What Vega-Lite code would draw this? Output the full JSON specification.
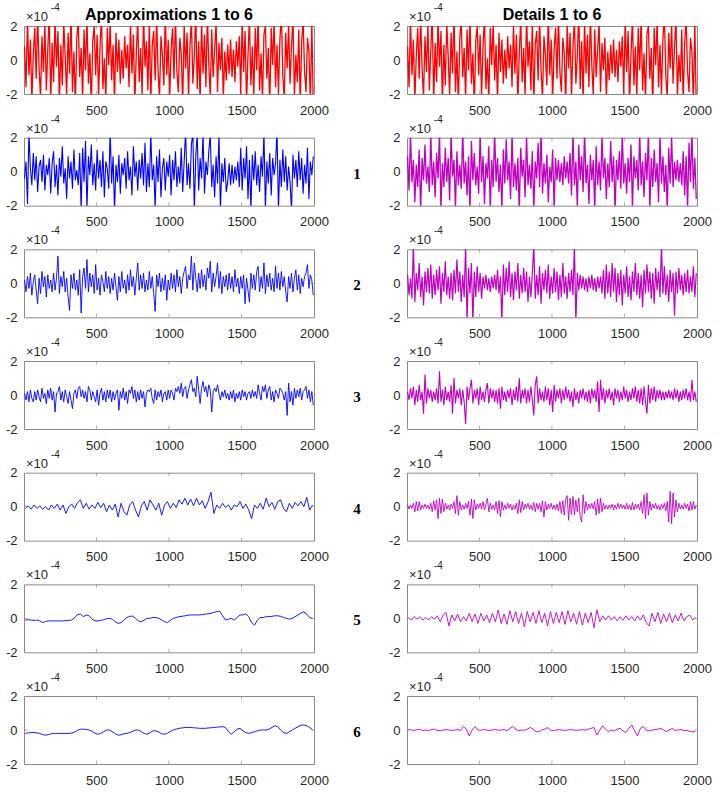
{
"$schema": "https://vega.github.io/schema/vega-lite/v6.json",
"padding": {"left": 4, "top": 2, "right": 5, "bottom": 5},
"background": "white",
"bounds": "flush",
"columns": 2,
"spacing": {"row": 43.67, "column": 93},
"config": {
  "locale": {"number": {"decimal": ".", "thousands": ",", "grouping": [3], "currency": ["$", ""], "minus": "-"}},
  "view": {"stroke": "#8a8a8a", "strokeWidth": 1},
  "axis": {"grid": false, "domain": false, "ticks": false, "labelFont": "Liberation Sans", "labelFontSize": 13, "labelColor": "#262626", "labelFlush": false, "labelOverlap": false, "labelBound": false},
  "axisX": {"labelPadding": 10, "tickCount": 10},
  "axisY": {"labelPadding": 7, "tickCount": 5}
},
"datasets": {
"one": [{"k": 0}],
"tk": [{"t": 500}, {"t": 1000}, {"t": 1500}],
"ye": [{"e": 1, "z": 0}, {"e": 2000, "z": 0}],
"g10": [
{"x":5,"s":0.8,"a1":-0.4,"d1":0.9,"a2":0.2,"d2":0.5,"a3":0.1,"d3":0.2,"d4":0.1},
{"x":15,"s":-1.6,"a1":0.6,"d1":-1.1,"a2":-0.5,"d2":-0.7,"a3":-0.3,"d3":-0.3,"d4":-0.15},
{"x":25,"s":2.5,"a1":-1.9,"d1":2.3,"a2":0.4,"d2":0.3,"a3":0.2,"d3":0.4,"d4":0.1},
{"x":35,"s":-0.9,"a1":2.3,"d1":-0.6,"a2":-0.3,"d2":-0.9,"a3":-0.4,"d3":-0.2,"d4":-0.1},
{"x":45,"s":1.2,"a1":0.2,"d1":0.7,"a2":0.6,"d2":2.3,"a3":0.3,"d3":0.5,"d4":0.2},
{"x":55,"s":-2.4,"a1":-0.8,"d1":-1.8,"a2":-0.7,"d2":-1.1,"a3":-0.2,"d3":-0.6,"d4":-0.3},
{"x":65,"s":0.3,"a1":1.1,"d1":0.4,"a2":0.1,"d2":0.6,"a3":-0.4,"d3":0.3,"d4":0.3},
{"x":75,"s":1.9,"a1":-0.5,"d1":-0.9,"a2":0.5,"d2":-0.4,"a3":0.2,"d3":-0.4,"d4":-0.25},
{"x":85,"s":-1.1,"a1":0.9,"d1":1.3,"a2":-0.4,"d2":1.2,"a3":-0.3,"d3":0.6,"d4":0.3},
{"x":95,"s":2.6,"a1":-1.2,"d1":-2.4,"a2":-1.2,"d2":-0.8,"a3":0.3,"d3":-0.3,"d4":-0.2},
{"x":105,"s":-0.5,"a1":0.3,"d1":0.8,"a2":0.3,"d2":0.4,"a3":-0.1,"d3":0.2,"d4":0.1},
{"x":115,"s":-2.2,"a1":0.7,"d1":-0.5,"a2":-0.6,"d2":-1.3,"a3":-0.4,"d3":-1.1,"d4":-0.1},
{"x":125,"s":1.4,"a1":-0.6,"d1":1.6,"a2":0.7,"d2":0.7,"a3":0.4,"d3":1.2,"d4":0.15},
{"x":135,"s":-0.7,"a1":1.0,"d1":-0.7,"a2":-0.2,"d2":-0.5,"a3":-0.2,"d3":-0.5,"d4":-0.1},
{"x":145,"s":2.1,"a1":-1.1,"d1":0.3,"a2":0.4,"d2":0.9,"a3":0.1,"d3":0.4,"d4":0.1},
{"x":155,"s":-1.8,"a1":0.4,"d1":-1.2,"a2":-0.8,"d2":-0.6,"a3":-0.5,"d3":-0.2,"d4":-0.15},
{"x":165,"s":0.6,"a1":-0.2,"d1":2.2,"a2":0.5,"d2":1.1,"a3":0.3,"d3":0.3,"d4":0.2},
{"x":175,"s":2.7,"a1":0.8,"d1":-0.8,"a2":-0.3,"d2":-0.9,"a3":-0.2,"d3":-0.4,"d4":-0.3},
{"x":185,"s":-2.5,"a1":-1.3,"d1":0.6,"a2":0.2,"d2":0.5,"a3":0.4,"d3":0.2,"d4":0.35},
{"x":195,"s":1.0,"a1":0.5,"d1":-1.5,"a2":-0.5,"d2":-0.7,"a3":-0.3,"d3":-0.3,"d4":-0.2},
{"x":205,"s":-1.3,"a1":1.2,"d1":1.1,"a2":0.6,"d2":0.8,"a3":0.2,"d3":0.4,"d4":0.4},
{"x":215,"s":2.4,"a1":-0.9,"d1":-0.4,"a2":-0.4,"d2":-0.4,"a3":-1.0,"d3":-0.5,"d4":-0.7},
{"x":225,"s":-0.4,"a1":0.4,"d1":2.4,"a2":0.3,"d2":1.0,"a3":0.1,"d3":1.4,"d4":0.5},
{"x":235,"s":1.7,"a1":-1.4,"d1":-2.3,"a2":1.6,"d2":-1.2,"a3":0.2,"d3":-0.4,"d4":-0.4},
{"x":245,"s":-2.6,"a1":0.8,"d1":0.5,"a2":-0.6,"d2":0.6,"a3":0.5,"d3":0.3,"d4":0.45},
{"x":255,"s":0.9,"a1":-0.3,"d1":-0.9,"a2":0.4,"d2":-0.5,"a3":-0.3,"d3":-0.6,"d4":-0.3},
{"x":265,"s":-1.5,"a1":1.5,"d1":1.4,"a2":-0.2,"d2":1.3,"a3":0.2,"d3":0.5,"d4":0.2},
{"x":275,"s":2.2,"a1":-0.7,"d1":-0.6,"a2":0.7,"d2":-0.7,"a3":-0.4,"d3":-0.3,"d4":-0.15},
{"x":285,"s":0.2,"a1":0.2,"d1":0.8,"a2":-0.5,"d2":0.4,"a3":0.3,"d3":0.2,"d4":0.1},
{"x":295,"s":-2.1,"a1":-1.6,"d1":-1.7,"a2":0.3,"d2":-0.9,"a3":-0.1,"d3":-0.4,"d4":-0.2},
{"x":305,"s":1.6,"a1":0.9,"d1":2.3,"a2":-0.8,"d2":0.6,"a3":-0.5,"d3":0.6,"d4":0.15},
{"x":315,"s":-0.8,"a1":-0.4,"d1":-0.3,"a2":-1.6,"d2":-1.0,"a3":0.2,"d3":-1.1,"d4":-0.1},
{"x":325,"s":2.8,"a1":0.6,"d1":0.7,"a2":0.5,"d2":0.8,"a3":-0.3,"d3":1.0,"d4":0.3},
{"x":335,"s":-1.9,"a1":-1.0,"d1":-2.2,"a2":-0.3,"d2":-0.6,"a3":-0.8,"d3":-0.5,"d4":-0.4},
{"x":345,"s":0.5,"a1":1.3,"d1":1.2,"a2":0.6,"d2":1.4,"a3":0.1,"d3":0.3,"d4":0.65},
{"x":355,"s":-2.7,"a1":-0.5,"d1":-0.8,"a2":-0.4,"d2":-0.5,"a3":0.3,"d3":-0.2,"d4":-0.5},
{"x":365,"s":1.3,"a1":0.1,"d1":0.4,"a2":0.2,"d2":0.7,"a3":-0.2,"d3":0.4,"d4":0.3},
{"x":375,"s":2.3,"a1":-0.8,"d1":-1.0,"a2":-0.7,"d2":-1.1,"a3":0.4,"d3":-0.6,"d4":-0.2},
{"x":385,"s":-1.0,"a1":1.1,"d1":2.5,"a2":0.8,"d2":0.5,"a3":0.5,"d3":0.3,"d4":0.1},
{"x":395,"s":0.7,"a1":-2.3,"d1":-0.7,"a2":-1.75,"d2":-0.8,"a3":-0.1,"d3":-0.4,"d4":-0.15},
{"x":405,"s":-2.3,"a1":1.4,"d1":0.6,"a2":0.4,"d2":2.3,"a3":0.3,"d3":-1.7,"d4":0.2},
{"x":415,"s":1.8,"a1":-0.6,"d1":-1.4,"a2":0.9,"d2":-2.3,"a3":-0.2,"d3":0.5,"d4":-0.1},
{"x":425,"s":-0.6,"a1":1.8,"d1":0.9,"a2":-0.3,"d2":0.9,"a3":0.2,"d3":-0.3,"d4":0.3},
{"x":435,"s":2.5,"a1":-2.2,"d1":-2.4,"a2":1.4,"d2":-0.6,"a3":-0.4,"d3":0.4,"d4":-0.5},
{"x":445,"s":-1.4,"a1":0.9,"d1":1.8,"a2":-0.5,"d2":1.2,"a3":0.5,"d3":0.9,"d4":0.45},
{"x":455,"s":0.4,"a1":-0.2,"d1":-0.5,"a2":0.6,"d2":-2.3,"a3":0.3,"d3":-0.5,"d4":-0.7},
{"x":465,"s":-2.8,"a1":1.6,"d1":1.1,"a2":-0.2,"d2":0.7,"a3":-0.3,"d3":0.3,"d4":0.4},
{"x":475,"s":1.1,"a1":-0.8,"d1":-0.8,"a2":0.5,"d2":-0.8,"a3":0.2,"d3":-0.2,"d4":-0.2},
{"x":485,"s":2.0,"a1":0.5,"d1":0.3,"a2":-0.6,"d2":1.0,"a3":-0.1,"d3":0.4,"d4":0.15},
{"x":495,"s":-0.9,"a1":-1.1,"d1":-1.3,"a2":1.1,"d2":-0.5,"a3":-0.4,"d3":-0.6,"d4":-0.1},
{"x":505,"s":1.5,"a1":1.3,"d1":2.2,"a2":-0.4,"d2":0.6,"a3":0.3,"d3":0.5,"d4":0.2},
{"x":515,"s":-2.2,"a1":-0.4,"d1":-0.6,"a2":0.3,"d2":-0.9,"a3":-0.6,"d3":-0.3,"d4":-0.15},
{"x":525,"s":0.8,"a1":0.7,"d1":0.9,"a2":-0.7,"d2":0.4,"a3":0.1,"d3":0.2,"d4":0.3},
{"x":535,"s":2.6,"a1":-0.9,"d1":-1.9,"a2":0.5,"d2":-0.3,"a3":0.4,"d3":-0.4,"d4":-0.2},
{"x":545,"s":-1.7,"a1":1.2,"d1":0.5,"a2":0.1,"d2":0.5,"a3":-0.3,"d3":0.3,"d4":0.15},
{"x":555,"s":0.1,"a1":-1.5,"d1":-0.4,"a2":-0.5,"d2":-0.4,"a3":0.2,"d3":0.7,"d4":0.5},
{"x":565,"s":-2.4,"a1":0.6,"d1":1.5,"a2":0.7,"d2":0.3,"a3":-0.4,"d3":-0.5,"d4":-0.3},
{"x":575,"s":1.9,"a1":0.2,"d1":-2.3,"a2":-0.3,"d2":-0.5,"a3":0.3,"d3":0.4,"d4":0.2},
{"x":585,"s":-0.3,"a1":-1.0,"d1":0.7,"a2":0.4,"d2":0.4,"a3":-0.2,"d3":-0.2,"d4":-0.15},
{"x":595,"s":2.2,"a1":2.4,"d1":-0.9,"a2":-0.6,"d2":-0.3,"a3":0.3,"d3":0.3,"d4":0.1},
{"x":605,"s":-1.2,"a1":-0.7,"d1":2.4,"a2":0.3,"d2":0.5,"a3":-0.4,"d3":-0.4,"d4":-0.2},
{"x":615,"s":0.9,"a1":0.9,"d1":-0.6,"a2":-0.4,"d2":-0.4,"a3":0.2,"d3":0.3,"d4":0.3},
{"x":625,"s":-2.5,"a1":-2.3,"d1":0.8,"a2":0.6,"d2":0.8,"a3":-0.3,"d3":-0.5,"d4":-0.4},
{"x":635,"s":1.6,"a1":0.4,"d1":-1.2,"a2":-0.2,"d2":-0.6,"a3":0.1,"d3":0.4,"d4":0.35},
{"x":645,"s":-0.7,"a1":-0.6,"d1":0.4,"a2":-1.0,"d2":0.4,"a3":0.3,"d3":-0.8,"d4":-0.6},
{"x":655,"s":1.2,"a1":1.0,"d1":-2.2,"a2":0.4,"d2":-2.3,"a3":-0.9,"d3":0.5,"d4":0.3},
{"x":665,"s":-1.4,"a1":-1.3,"d1":1.3,"a2":-0.5,"d2":1.1,"a3":0.2,"d3":-0.3,"d4":-0.2},
{"x":675,"s":0.6,"a1":0.5,"d1":-0.7,"a2":0.7,"d2":-0.7,"a3":-0.2,"d3":0.2,"d4":0.1},
{"x":685,"s":-1.1,"a1":-0.2,"d1":1.9,"a2":-0.3,"d2":0.9,"a3":0.4,"d3":-0.4,"d4":-0.15},
{"x":695,"s":1.4,"a1":0.8,"d1":-0.5,"a2":0.2,"d2":-0.5,"a3":-0.3,"d3":0.3,"d4":0.2},
{"x":705,"s":-0.5,"a1":-1.0,"d1":0.6,"a2":-0.6,"d2":1.3,"a3":0.2,"d3":-0.2,"d4":-0.1},
{"x":715,"s":0.9,"a1":1.2,"d1":-1.6,"a2":0.5,"d2":-0.8,"a3":-0.5,"d3":0.4,"d4":0.15},
{"x":725,"s":-1.6,"a1":-0.5,"d1":2.3,"a2":-0.4,"d2":0.6,"a3":0.3,"d3":-0.6,"d4":-0.2},
{"x":735,"s":2.1,"a1":0.3,"d1":-0.9,"a2":0.8,"d2":-1.0,"a3":0.1,"d3":0.3,"d4":0.1},
{"x":745,"s":-0.8,"a1":-1.4,"d1":0.5,"a2":-0.2,"d2":0.7,"a3":0.5,"d3":-0.3,"d4":-0.15},
{"x":755,"s":1.5,"a1":1.5,"d1":-1.1,"a2":0.4,"d2":-0.4,"a3":-0.2,"d3":0.5,"d4":0.2},
{"x":765,"s":-2.6,"a1":-0.3,"d1":0.8,"a2":-0.7,"d2":1.2,"a3":0.3,"d3":-0.4,"d4":-0.4},
{"x":775,"s":0.4,"a1":0.6,"d1":-2.4,"a2":0.3,"d2":-0.9,"a3":-0.4,"d3":1.0,"d4":0.4},
{"x":785,"s":2.4,"a1":-1.1,"d1":1.4,"a2":1.2,"d2":0.5,"a3":0.2,"d3":-0.5,"d4":-0.35},
{"x":795,"s":-1.3,"a1":0.7,"d1":-0.3,"a2":-0.4,"d2":-0.6,"a3":-0.3,"d3":0.3,"d4":0.3},
{"x":805,"s":0.7,"a1":-0.4,"d1":0.7,"a2":0.5,"d2":0.9,"a3":0.3,"d3":-0.2,"d4":-0.2},
{"x":815,"s":-2.1,"a1":1.1,"d1":-1.5,"a2":-0.3,"d2":-0.5,"a3":-0.2,"d3":0.4,"d4":0.15},
{"x":825,"s":2.7,"a1":-0.8,"d1":2.2,"a2":0.6,"d2":0.7,"a3":0.2,"d3":-0.5,"d4":-0.1},
{"x":835,"s":-0.4,"a1":1.7,"d1":-0.8,"a2":-0.5,"d2":-1.1,"a3":-0.7,"d3":0.3,"d4":0.2},
{"x":845,"s":1.1,"a1":-1.2,"d1":0.4,"a2":0.2,"d2":0.4,"a3":0.1,"d3":-0.4,"d4":-0.15},
{"x":855,"s":-1.8,"a1":0.5,"d1":-1.0,"a2":-0.4,"d2":-0.8,"a3":0.3,"d3":0.5,"d4":0.1},
{"x":865,"s":2.3,"a1":-0.9,"d1":1.2,"a2":0.7,"d2":0.6,"a3":0.2,"d3":-0.3,"d4":-0.2},
{"x":875,"s":-2.6,"a1":2.3,"d1":-2.3,"a2":-0.3,"d2":2.3,"a3":0.4,"d3":-1.2,"d4":0.25},
{"x":885,"s":0.9,"a1":-0.5,"d1":0.6,"a2":0.4,"d2":-0.9,"a3":-0.2,"d3":0.6,"d4":-0.3},
{"x":895,"s":1.7,"a1":0.4,"d1":-0.4,"a2":-0.6,"d2":0.5,"a3":-0.5,"d3":1.1,"d4":0.2},
{"x":905,"s":-1.2,"a1":-2.2,"d1":1.7,"a2":-1.65,"d2":-0.7,"a3":0.3,"d3":-0.5,"d4":-0.15},
{"x":915,"s":2.5,"a1":0.9,"d1":-0.9,"a2":0.5,"d2":1.0,"a3":-0.3,"d3":0.4,"d4":0.2},
{"x":925,"s":-0.6,"a1":-0.6,"d1":2.4,"a2":-0.2,"d2":-1.2,"a3":0.2,"d3":-0.3,"d4":-0.3},
{"x":935,"s":-2.3,"a1":1.3,"d1":-1.3,"a2":0.6,"d2":0.6,"a3":-0.1,"d3":0.2,"d4":0.35},
{"x":945,"s":1.4,"a1":-1.5,"d1":0.5,"a2":-0.5,"d2":-0.4,"a3":0.3,"d3":-0.4,"d4":-0.6},
{"x":955,"s":0.3,"a1":0.2,"d1":-0.7,"a2":0.3,"d2":0.8,"a3":-0.4,"d3":0.5,"d4":0.3},
{"x":965,"s":-1.5,"a1":0.8,"d1":1.0,"a2":-0.4,"d2":-0.6,"a3":0.1,"d3":-0.3,"d4":-0.2},
{"x":975,"s":2.8,"a1":-1.1,"d1":-1.8,"a2":0.5,"d2":1.1,"a3":0.2,"d3":0.4,"d4":0.15},
{"x":985,"s":-0.9,"a1":0.6,"d1":0.3,"a2":-1.0,"d2":-0.9,"a3":-0.3,"d3":-0.6,"d4":-0.1},
{"x":995,"s":1.2,"a1":-0.3,"d1":-0.6,"a2":0.2,"d2":0.4,"a3":0.3,"d3":0.3,"d4":0.2},
{"x":1005,"s":-2.4,"a1":1.0,"d1":1.3,"a2":-0.4,"d2":-0.6,"a3":-0.2,"d3":-1.0,"d4":-0.15},
{"x":1015,"s":0.6,"a1":-1.4,"d1":-2.2,"a2":0.6,"d2":0.9,"a3":0.3,"d3":0.6,"d4":0.1},
{"x":1025,"s":1.9,"a1":0.7,"d1":0.8,"a2":-0.3,"d2":-0.5,"a3":0.1,"d3":-0.4,"d4":-0.2},
{"x":1035,"s":-1.1,"a1":-0.5,"d1":-0.5,"a2":0.5,"d2":0.7,"a3":-0.3,"d3":0.3,"d4":0.15},
{"x":1045,"s":2.6,"a1":1.2,"d1":0.7,"a2":-0.5,"d2":-1.0,"a3":0.4,"d3":-0.2,"d4":-0.25},
{"x":1055,"s":-0.7,"a1":-0.9,"d1":-0.6,"a2":0.8,"d2":0.5,"a3":0.2,"d3":0.4,"d4":0.3},
{"x":1065,"s":-1.9,"a1":0.3,"d1":0.5,"a2":-0.2,"d2":-0.8,"a3":0.5,"d3":-0.5,"d4":-0.4},
{"x":1075,"s":1.3,"a1":-0.7,"d1":-0.8,"a2":0.4,"d2":1.2,"a3":0.1,"d3":0.3,"d4":0.35},
{"x":1085,"s":0.4,"a1":1.4,"d1":0.9,"a2":-0.6,"d2":-0.6,"a3":0.7,"d3":-0.3,"d4":-0.5},
{"x":1095,"s":-2.7,"a1":-1.2,"d1":-0.4,"a2":0.3,"d2":0.4,"a3":-0.1,"d3":0.5,"d4":0.45},
{"x":1105,"s":2.1,"a1":0.6,"d1":0.6,"a2":0.7,"d2":-0.9,"a3":0.4,"d3":-0.2,"d4":0.65},
{"x":1115,"s":-0.5,"a1":2.4,"d1":-0.7,"a2":1.0,"d2":0.6,"a3":0.5,"d3":0.3,"d4":-0.8},
{"x":1125,"s":1.6,"a1":-0.8,"d1":1.1,"a2":-0.3,"d2":-0.5,"a3":-0.2,"d3":-0.4,"d4":0.5},
{"x":1135,"s":-2.2,"a1":0.5,"d1":-1.4,"a2":0.5,"d2":0.8,"a3":0.3,"d3":0.2,"d4":-0.45},
{"x":1145,"s":0.8,"a1":-1.0,"d1":2.3,"a2":0.2,"d2":-0.7,"a3":0.6,"d3":-0.7,"d4":0.6},
{"x":1155,"s":2.4,"a1":1.6,"d1":-0.8,"a2":1.6,"d2":2.3,"a3":0.9,"d3":0.4,"d4":-0.5},
{"x":1165,"s":-1.4,"a1":2.3,"d1":0.6,"a2":-0.4,"d2":-2.3,"a3":0.2,"d3":-0.3,"d4":0.4},
{"x":1175,"s":0.2,"a1":-2.3,"d1":-2.1,"a2":1.2,"d2":0.6,"a3":0.4,"d3":0.2,"d4":-0.3},
{"x":1185,"s":2.9,"a1":0.9,"d1":1.6,"a2":0.3,"d2":-0.4,"a3":-0.1,"d3":-0.5,"d4":0.5},
{"x":1195,"s":-1.7,"a1":2.2,"d1":-0.5,"a2":-0.5,"d2":0.5,"a3":1.1,"d3":0.3,"d4":-0.6},
{"x":1205,"s":1.1,"a1":-1.1,"d1":0.9,"a2":0.6,"d2":-0.3,"a3":0.3,"d3":-0.2,"d4":-0.9},
{"x":1215,"s":-2.5,"a1":0.8,"d1":-1.2,"a2":-0.3,"d2":0.4,"a3":-0.5,"d3":0.4,"d4":0.7},
{"x":1225,"s":2.3,"a1":-0.4,"d1":2.4,"a2":0.8,"d2":-0.4,"a3":0.4,"d3":-0.3,"d4":-0.4},
{"x":1235,"s":-0.8,"a1":2.3,"d1":-0.7,"a2":-0.2,"d2":0.3,"a3":0.8,"d3":0.2,"d4":0.3},
{"x":1245,"s":1.5,"a1":-1.3,"d1":0.4,"a2":0.5,"d2":-0.5,"a3":0.2,"d3":-0.4,"d4":-0.2},
{"x":1255,"s":-1.6,"a1":0.6,"d1":-1.9,"a2":-0.4,"d2":0.4,"a3":0.5,"d3":0.3,"d4":0.15},
{"x":1265,"s":2.7,"a1":-0.2,"d1":1.0,"a2":0.9,"d2":-0.3,"a3":-0.1,"d3":-0.5,"d4":-0.1},
{"x":1275,"s":-0.3,"a1":1.2,"d1":-0.5,"a2":0.3,"d2":0.5,"a3":0.6,"d3":0.4,"d4":0.2},
{"x":1285,"s":-2.1,"a1":2.2,"d1":0.7,"a2":1.3,"d2":-0.4,"a3":0.3,"d3":-0.2,"d4":-0.15},
{"x":1295,"s":1.8,"a1":-0.9,"d1":-2.3,"a2":-0.5,"d2":0.3,"a3":-1.0,"d3":0.3,"d4":0.3},
{"x":1305,"s":-1.0,"a1":0.4,"d1":1.5,"a2":0.6,"d2":-0.5,"a3":0.2,"d3":-0.4,"d4":-0.5},
{"x":1315,"s":0.6,"a1":-1.5,"d1":-0.8,"a2":-0.2,"d2":0.4,"a3":0.4,"d3":0.8,"d4":0.45},
{"x":1325,"s":2.2,"a1":0.9,"d1":0.6,"a2":0.4,"d2":-0.3,"a3":0.2,"d3":-1.0,"d4":-0.4},
{"x":1335,"s":-1.9,"a1":-0.7,"d1":-1.1,"a2":1.2,"d2":0.4,"a3":0.6,"d3":0.9,"d4":0.5},
{"x":1345,"s":1.0,"a1":2.2,"d1":2.2,"a2":-0.3,"d2":-0.6,"a3":0.1,"d3":-0.3,"d4":-0.3},
{"x":1355,"s":-0.6,"a1":-2.3,"d1":-0.4,"a2":0.7,"d2":0.8,"a3":-0.3,"d3":0.4,"d4":0.2},
{"x":1365,"s":1.3,"a1":0.5,"d1":0.8,"a2":-0.6,"d2":-0.9,"a3":0.2,"d3":-0.5,"d4":-0.15},
{"x":1375,"s":-2.3,"a1":-0.6,"d1":-1.6,"a2":0.4,"d2":1.1,"a3":-0.1,"d3":0.3,"d4":0.1},
{"x":1385,"s":0.5,"a1":0.8,"d1":0.5,"a2":-0.2,"d2":-0.6,"a3":0.3,"d3":-0.2,"d4":-0.15},
{"x":1395,"s":-1.2,"a1":-1.2,"d1":-0.9,"a2":0.5,"d2":0.7,"a3":-0.2,"d3":0.4,"d4":0.1},
{"x":1405,"s":0.9,"a1":-0.6,"d1":1.8,"a2":-0.4,"d2":-0.8,"a3":0.1,"d3":-0.3,"d4":-0.1},
{"x":1415,"s":-0.8,"a1":0.5,"d1":-0.6,"a2":0.6,"d2":1.2,"a3":-0.3,"d3":0.2,"d4":0.15},
{"x":1425,"s":1.2,"a1":-0.8,"d1":0.9,"a2":-0.3,"d2":-0.5,"a3":0.2,"d3":-0.6,"d4":-0.2},
{"x":1435,"s":-1.0,"a1":0.4,"d1":-2.4,"a2":0.4,"d2":0.9,"a3":-0.2,"d3":0.4,"d4":0.1},
{"x":1445,"s":0.6,"a1":-0.7,"d1":0.7,"a2":-0.5,"d2":-1.1,"a3":0.3,"d3":-0.2,"d4":-0.15},
{"x":1455,"s":-1.3,"a1":0.3,"d1":-0.5,"a2":0.8,"d2":0.6,"a3":-0.4,"d3":0.3,"d4":0.2},
{"x":1465,"s":1.1,"a1":-0.5,"d1":1.2,"a2":-0.2,"d2":-0.7,"a3":0.1,"d3":-0.4,"d4":-0.1},
{"x":1475,"s":-0.4,"a1":0.6,"d1":-1.0,"a2":0.3,"d2":0.8,"a3":-0.2,"d3":0.2,"d4":0.15},
{"x":1485,"s":1.4,"a1":-0.9,"d1":2.3,"a2":-0.6,"d2":-1.3,"a3":0.2,"d3":-0.3,"d4":-0.1},
{"x":1495,"s":-2.0,"a1":1.4,"d1":-0.7,"a2":0.4,"d2":0.5,"a3":-0.3,"d3":0.5,"d4":0.1},
{"x":1505,"s":2.4,"a1":-1.1,"d1":0.5,"a2":-0.3,"d2":-0.6,"a3":0.3,"d3":-0.2,"d4":-0.15},
{"x":1515,"s":-0.7,"a1":0.8,"d1":-1.3,"a2":0.5,"d2":1.0,"a3":-0.1,"d3":0.3,"d4":0.2},
{"x":1525,"s":1.7,"a1":-0.4,"d1":0.8,"a2":-1.2,"d2":-0.8,"a3":0.2,"d3":-0.4,"d4":-0.15},
{"x":1535,"s":-2.6,"a1":1.5,"d1":-0.6,"a2":0.3,"d2":0.4,"a3":-0.3,"d3":0.2,"d4":0.1},
{"x":1545,"s":0.3,"a1":-1.6,"d1":1.6,"a2":-0.4,"d2":-1.0,"a3":0.1,"d3":-0.3,"d4":-0.2},
{"x":1555,"s":2.5,"a1":0.7,"d1":-2.2,"a2":-1.1,"d2":0.7,"a3":0.2,"d3":0.4,"d4":0.25},
{"x":1565,"s":-1.5,"a1":-2.3,"d1":0.9,"a2":0.6,"d2":-0.5,"a3":-0.2,"d3":-0.2,"d4":-0.2},
{"x":1575,"s":0.8,"a1":1.0,"d1":-0.4,"a2":-0.3,"d2":1.2,"a3":0.3,"d3":0.5,"d4":0.15},
{"x":1585,"s":-2.2,"a1":-0.5,"d1":0.7,"a2":0.5,"d2":-0.7,"a3":-0.1,"d3":-0.4,"d4":-0.1},
{"x":1595,"s":1.9,"a1":1.2,"d1":-1.1,"a2":-0.4,"d2":0.6,"a3":0.2,"d3":0.3,"d4":0.15},
{"x":1605,"s":-0.6,"a1":-0.8,"d1":2.3,"a2":0.7,"d2":-0.9,"a3":-0.2,"d3":-0.5,"d4":-0.2},
{"x":1615,"s":2.6,"a1":0.4,"d1":-0.8,"a2":1.0,"d2":0.5,"a3":0.6,"d3":0.4,"d4":0.3},
{"x":1625,"s":-1.8,"a1":-1.2,"d1":0.6,"a2":-0.5,"d2":-1.4,"a3":0.1,"d3":-0.6,"d4":-0.4},
{"x":1635,"s":0.4,"a1":0.9,"d1":-1.5,"a2":0.4,"d2":0.8,"a3":-0.3,"d3":0.5,"d4":0.7},
{"x":1645,"s":-2.4,"a1":-0.3,"d1":1.1,"a2":-0.3,"d2":-0.6,"a3":0.5,"d3":-0.4,"d4":-0.7},
{"x":1655,"s":1.5,"a1":2.3,"d1":-0.5,"a2":1.2,"d2":1.1,"a3":0.2,"d3":-1.1,"d4":0.8},
{"x":1665,"s":2.0,"a1":-2.2,"d1":2.4,"a2":-0.6,"d2":-0.5,"a3":0.6,"d3":0.6,"d4":-0.5},
{"x":1675,"s":-1.1,"a1":0.6,"d1":-2.3,"a2":0.5,"d2":0.7,"a3":-0.2,"d3":-0.5,"d4":0.3},
{"x":1685,"s":0.7,"a1":-0.7,"d1":0.8,"a2":-0.2,"d2":-0.9,"a3":0.3,"d3":0.4,"d4":-0.2},
{"x":1695,"s":-2.8,"a1":1.1,"d1":-0.9,"a2":0.6,"d2":0.6,"a3":0.5,"d3":-0.3,"d4":0.15},
{"x":1705,"s":1.9,"a1":-1.4,"d1":1.3,"a2":-0.4,"d2":-1.2,"a3":-0.3,"d3":0.5,"d4":-0.1},
{"x":1715,"s":-0.3,"a1":0.8,"d1":-0.6,"a2":0.3,"d2":0.9,"a3":0.2,"d3":-0.4,"d4":0.2},
{"x":1725,"s":2.3,"a1":-0.2,"d1":0.5,"a2":-0.5,"d2":-0.4,"a3":-0.4,"d3":0.3,"d4":-0.15},
{"x":1735,"s":-1.6,"a1":0.5,"d1":-1.8,"a2":1.0,"d2":0.7,"a3":0.3,"d3":-0.2,"d4":0.1},
{"x":1745,"s":0.9,"a1":2.4,"d1":2.2,"a2":-0.3,"d2":-0.8,"a3":0.1,"d3":0.3,"d4":-0.2},
{"x":1755,"s":-2.0,"a1":-2.3,"d1":-0.7,"a2":0.6,"d2":2.3,"a3":-0.2,"d3":-0.3,"d4":0.15},
{"x":1765,"s":1.2,"a1":0.7,"d1":0.9,"a2":-0.4,"d2":-0.6,"a3":0.4,"d3":0.2,"d4":-0.1},
{"x":1775,"s":2.7,"a1":-0.9,"d1":-1.2,"a2":0.7,"d2":1.0,"a3":0.3,"d3":-0.3,"d4":0.2},
{"x":1785,"s":-0.9,"a1":1.3,"d1":0.4,"a2":-0.2,"d2":-0.7,"a3":0.1,"d3":0.2,"d4":-0.25},
{"x":1795,"s":-2.3,"a1":-0.6,"d1":-2.3,"a2":0.4,"d2":0.5,"a3":-0.3,"d3":-0.2,"d4":0.3},
{"x":1805,"s":1.6,"a1":0.9,"d1":1.4,"a2":-0.5,"d2":-1.1,"a3":0.2,"d3":0.3,"d4":-0.9},
{"x":1815,"s":-0.5,"a1":-1.1,"d1":-0.7,"a2":-1.1,"d2":0.8,"a3":-1.2,"d3":-0.2,"d4":0.9},
{"x":1825,"s":2.1,"a1":0.3,"d1":2.1,"a2":0.4,"d2":-0.5,"a3":0.7,"d3":0.2,"d4":-1.0},
{"x":1835,"s":-1.4,"a1":-0.6,"d1":-0.9,"a2":-0.3,"d2":0.6,"a3":-0.4,"d3":-0.3,"d4":0.8},
{"x":1845,"s":0.8,"a1":-2.3,"d1":0.6,"a2":0.6,"d2":-1.9,"a3":0.2,"d3":0.4,"d4":-0.6},
{"x":1855,"s":2.5,"a1":1.0,"d1":-0.5,"a2":-0.5,"d2":0.7,"a3":-0.6,"d3":-0.2,"d4":0.4},
{"x":1865,"s":-2.2,"a1":-0.4,"d1":0.7,"a2":0.3,"d2":-0.6,"a3":0.4,"d3":0.3,"d4":-0.3},
{"x":1875,"s":0.3,"a1":0.7,"d1":-0.6,"a2":0.8,"d2":0.9,"a3":-0.2,"d3":-0.4,"d4":0.2},
{"x":1885,"s":-1.3,"a1":-0.9,"d1":0.5,"a2":-0.4,"d2":-0.4,"a3":0.3,"d3":0.2,"d4":-0.15},
{"x":1895,"s":1.8,"a1":1.2,"d1":-0.8,"a2":0.5,"d2":0.5,"a3":-0.1,"d3":-0.3,"d4":0.1},
{"x":1905,"s":-2.6,"a1":-0.5,"d1":1.2,"a2":-0.6,"d2":-0.7,"a3":0.4,"d3":0.3,"d4":-0.15},
{"x":1915,"s":1.0,"a1":0.8,"d1":-1.4,"a2":0.3,"d2":0.6,"a3":-0.3,"d3":-0.2,"d4":0.2},
{"x":1925,"s":2.4,"a1":-1.3,"d1":0.9,"a2":-0.2,"d2":-0.5,"a3":0.2,"d3":0.4,"d4":-0.1},
{"x":1935,"s":-0.7,"a1":0.4,"d1":-2.2,"a2":0.4,"d2":0.8,"a3":0.3,"d3":-0.3,"d4":0.15},
{"x":1945,"s":-1.9,"a1":-0.7,"d1":1.7,"a2":0.6,"d2":-0.6,"a3":0.5,"d3":0.2,"d4":-0.25},
{"x":1955,"s":1.3,"a1":1.4,"d1":-0.6,"a2":1.1,"d2":0.4,"a3":-0.2,"d3":-0.4,"d4":0.3},
{"x":1965,"s":0.5,"a1":-1.6,"d1":2.4,"a2":-0.3,"d2":-0.5,"a3":0.3,"d3":0.9,"d4":-0.2},
{"x":1975,"s":-2.5,"a1":0.6,"d1":-1.0,"a2":0.5,"d2":1.0,"a3":-0.4,"d3":-0.3,"d4":0.3},
{"x":1985,"s":2.2,"a1":-0.2,"d1":0.8,"a2":0.2,"d2":-0.8,"a3":0.2,"d3":0.2,"d4":-0.15},
{"x":1995,"s":-2.7,"a1":0.9,"d1":-1.6,"a2":-0.7,"d2":0.6,"a3":-0.6,"d3":-0.4,"d4":0.1}
],
"g20": [
{"x":10,"a4":-0.1,"a5":-0.1,"a6":-0.2,"d5":0.05,"d6":0.05},
{"x":30,"a4":0.05,"a5":-0.08,"a6":-0.17,"d5":-0.1,"d6":0.0},
{"x":50,"a4":-0.15,"a5":-0.1,"a6":-0.15,"d5":0.1,"d6":-0.03},
{"x":70,"a4":0.1,"a5":-0.12,"a6":-0.15,"d5":-0.05,"d6":0.02},
{"x":90,"a4":-0.1,"a5":-0.1,"a6":-0.17,"d5":0.1,"d6":0.04},
{"x":110,"a4":0.05,"a5":-0.15,"a6":-0.2,"d5":-0.1,"d6":-0.03},
{"x":130,"a4":-0.15,"a5":-0.25,"a6":-0.27,"d5":0.05,"d6":0.0},
{"x":150,"a4":0.0,"a5":-0.18,"a6":-0.3,"d5":-0.1,"d6":-0.04},
{"x":170,"a4":-0.2,"a5":-0.15,"a6":-0.27,"d5":0.1,"d6":0.03},
{"x":190,"a4":0.1,"a5":-0.15,"a6":-0.22,"d5":-0.05,"d6":0.05},
{"x":210,"a4":-0.1,"a5":-0.15,"a6":-0.2,"d5":0.15,"d6":-0.02},
{"x":230,"a4":0.15,"a5":-0.15,"a6":-0.2,"d5":-0.2,"d6":-0.04},
{"x":250,"a4":-0.2,"a5":-0.15,"a6":-0.2,"d5":0.2,"d6":0.0},
{"x":270,"a4":0.1,"a5":-0.15,"a6":-0.2,"d5":0.35,"d6":0.02},
{"x":290,"a4":-0.4,"a5":-0.14,"a6":-0.2,"d5":-0.45,"d6":0.0},
{"x":310,"a4":0.0,"a5":-0.12,"a6":-0.2,"d5":0.2,"d6":-0.02},
{"x":330,"a4":0.15,"a5":-0.1,"a6":-0.18,"d5":-0.15,"d6":0.0},
{"x":350,"a4":-0.1,"a5":0.05,"a6":-0.12,"d5":0.25,"d6":0.03},
{"x":370,"a4":0.25,"a5":0.22,"a6":-0.02,"d5":-0.2,"d6":-0.02},
{"x":390,"a4":0.4,"a5":0.25,"a6":0.05,"d5":0.1,"d6":0.2},
{"x":410,"a4":-0.1,"a5":0.1,"a6":0.05,"d5":-0.15,"d6":0.05},
{"x":430,"a4":0.2,"a5":0.2,"a6":0.03,"d5":0.3,"d6":-0.35},
{"x":450,"a4":-0.15,"a5":0.15,"a6":0.0,"d5":-0.2,"d6":0.0},
{"x":470,"a4":0.1,"a5":-0.05,"a6":-0.08,"d5":0.25,"d6":0.2},
{"x":490,"a4":-0.1,"a5":-0.15,"a6":-0.18,"d5":-0.3,"d6":0.0},
{"x":510,"a4":0.25,"a5":-0.15,"a6":-0.25,"d5":0.3,"d6":-0.02},
{"x":530,"a4":-0.05,"a5":-0.12,"a6":-0.2,"d5":-0.15,"d6":0.03},
{"x":550,"a4":0.2,"a5":-0.08,"a6":-0.1,"d5":0.2,"d6":0.0},
{"x":570,"a4":-0.3,"a5":-0.02,"a6":0.0,"d5":-0.25,"d6":-0.03},
{"x":590,"a4":0.1,"a5":0.0,"a6":0.0,"d5":0.3,"d6":0.0},
{"x":610,"a4":-0.2,"a5":-0.05,"a6":-0.1,"d5":-0.2,"d6":0.05},
{"x":630,"a4":0.15,"a5":-0.2,"a6":-0.22,"d5":0.5,"d6":-0.02},
{"x":650,"a4":-0.6,"a5":-0.3,"a6":-0.3,"d5":-0.3,"d6":0.0},
{"x":670,"a4":0.2,"a5":-0.25,"a6":-0.28,"d5":0.25,"d6":0.03},
{"x":690,"a4":-0.3,"a5":-0.1,"a6":-0.22,"d5":-0.35,"d6":-0.05},
{"x":710,"a4":-0.5,"a5":0.05,"a6":-0.2,"d5":0.45,"d6":0.1},
{"x":730,"a4":0.1,"a5":0.12,"a6":-0.15,"d5":-0.2,"d6":0.2},
{"x":750,"a4":0.3,"a5":0.13,"a6":-0.08,"d5":0.4,"d6":0.05},
{"x":770,"a4":-0.2,"a5":0.0,"a6":0.0,"d5":-0.3,"d6":-0.05},
{"x":790,"a4":-0.6,"a5":-0.15,"a6":0.0,"d5":0.3,"d6":0.0},
{"x":810,"a4":0.05,"a5":-0.2,"a6":-0.1,"d5":-0.5,"d6":-0.02},
{"x":830,"a4":0.3,"a5":-0.1,"a6":-0.2,"d5":0.4,"d6":0.05},
{"x":850,"a4":-0.2,"a5":0.0,"a6":-0.25,"d5":-0.2,"d6":0.15},
{"x":870,"a4":0.4,"a5":0.0,"a6":-0.15,"d5":0.35,"d6":0.05},
{"x":890,"a4":0.1,"a5":0.05,"a6":-0.05,"d5":-0.3,"d6":-0.1},
{"x":910,"a4":-0.2,"a5":0.05,"a6":-0.05,"d5":0.45,"d6":-0.1},
{"x":930,"a4":0.2,"a5":0.0,"a6":-0.12,"d5":-0.25,"d6":0.0},
{"x":950,"a4":-0.5,"a5":-0.1,"a6":-0.22,"d5":0.3,"d6":0.05},
{"x":970,"a4":0.1,"a5":-0.2,"a6":-0.25,"d5":-0.45,"d6":0.15},
{"x":990,"a4":0.3,"a5":-0.25,"a6":-0.18,"d5":0.4,"d6":0.0},
{"x":1010,"a4":-0.1,"a5":-0.12,"a6":-0.08,"d5":-0.3,"d6":-0.05},
{"x":1030,"a4":0.2,"a5":0.0,"a6":0.0,"d5":0.35,"d6":0.0},
{"x":1050,"a4":-0.05,"a5":0.05,"a6":0.05,"d5":-0.25,"d6":0.02},
{"x":1070,"a4":0.4,"a5":0.1,"a6":0.1,"d5":0.4,"d6":0.0},
{"x":1090,"a4":0.15,"a5":0.12,"a6":0.12,"d5":-0.35,"d6":-0.02},
{"x":1110,"a4":0.5,"a5":0.15,"a6":0.15,"d5":0.45,"d6":0.0},
{"x":1130,"a4":0.1,"a5":0.18,"a6":0.15,"d5":-0.2,"d6":0.03},
{"x":1150,"a4":0.45,"a5":0.2,"a6":0.15,"d5":0.3,"d6":0.0},
{"x":1170,"a4":0.05,"a5":0.2,"a6":0.13,"d5":-0.35,"d6":-0.02},
{"x":1190,"a4":0.5,"a5":0.2,"a6":0.12,"d5":0.4,"d6":0.0},
{"x":1210,"a4":0.1,"a5":0.2,"a6":0.1,"d5":-0.4,"d6":0.02},
{"x":1230,"a4":0.35,"a5":0.22,"a6":0.1,"d5":0.3,"d6":0.0},
{"x":1250,"a4":-0.1,"a5":0.25,"a6":0.1,"d5":-0.25,"d6":0.05},
{"x":1270,"a4":0.3,"a5":0.27,"a6":0.12,"d5":0.35,"d6":0.1},
{"x":1290,"a4":0.85,"a5":0.3,"a6":0.13,"d5":-0.55,"d6":0.15},
{"x":1310,"a4":-0.4,"a5":0.35,"a6":0.15,"d5":0.5,"d6":-0.3},
{"x":1330,"a4":0.1,"a5":0.4,"a6":0.17,"d5":-0.2,"d6":0.0},
{"x":1350,"a4":-0.1,"a5":0.42,"a6":0.18,"d5":0.15,"d6":0.25},
{"x":1370,"a4":0.2,"a5":0.15,"a6":0.2,"d5":-0.1,"d6":0.05},
{"x":1390,"a4":-0.05,"a5":-0.1,"a6":0.15,"d5":0.15,"d6":-0.1},
{"x":1410,"a4":0.1,"a5":-0.05,"a6":-0.1,"d5":-0.1,"d6":0.0},
{"x":1430,"a4":-0.2,"a5":0.0,"a6":-0.25,"d5":0.1,"d6":-0.05},
{"x":1450,"a4":0.1,"a5":-0.1,"a6":-0.1,"d5":-0.15,"d6":0.05},
{"x":1470,"a4":0.0,"a5":0.05,"a6":0.05,"d5":0.1,"d6":0.1},
{"x":1490,"a4":0.3,"a5":0.2,"a6":0.1,"d5":-0.1,"d6":-0.05},
{"x":1510,"a4":-0.1,"a5":0.2,"a6":-0.05,"d5":0.15,"d6":-0.15},
{"x":1530,"a4":0.15,"a5":0.27,"a6":-0.15,"d5":-0.1,"d6":0.1},
{"x":1550,"a4":-0.2,"a5":0.1,"a6":-0.2,"d5":0.1,"d6":0.3},
{"x":1570,"a4":-0.7,"a5":-0.25,"a6":-0.15,"d5":-0.15,"d6":-0.05},
{"x":1590,"a4":0.1,"a5":-0.4,"a6":-0.1,"d5":0.15,"d6":-0.35},
{"x":1610,"a4":-0.1,"a5":-0.1,"a6":-0.05,"d5":-0.1,"d6":0.1},
{"x":1630,"a4":0.2,"a5":0.05,"a6":0.0,"d5":0.2,"d6":0.2},
{"x":1650,"a4":-0.15,"a5":0.05,"a6":0.0,"d5":-0.25,"d6":0.0},
{"x":1670,"a4":0.5,"a5":0.1,"a6":0.0,"d5":-0.45,"d6":-0.05},
{"x":1690,"a4":0.0,"a5":0.1,"a6":0.05,"d5":0.3,"d6":0.0},
{"x":1710,"a4":0.25,"a5":0.12,"a6":0.15,"d5":-0.2,"d6":0.02},
{"x":1730,"a4":-0.15,"a5":0.15,"a6":0.25,"d5":0.35,"d6":0.05},
{"x":1750,"a4":0.3,"a5":0.15,"a6":0.2,"d5":-0.3,"d6":0.1},
{"x":1770,"a4":0.4,"a5":0.12,"a6":0.0,"d5":0.25,"d6":0.0},
{"x":1790,"a4":-0.1,"a5":0.05,"a6":-0.15,"d5":-0.2,"d6":-0.1},
{"x":1810,"a4":-0.3,"a5":0.0,"a6":-0.2,"d5":0.3,"d6":0.0},
{"x":1830,"a4":0.2,"a5":-0.05,"a6":-0.1,"d5":-0.25,"d6":0.1},
{"x":1850,"a4":-0.1,"a5":0.0,"a6":0.0,"d5":0.2,"d6":-0.03},
{"x":1870,"a4":0.25,"a5":0.1,"a6":0.1,"d5":-0.15,"d6":0.0},
{"x":1890,"a4":0.05,"a5":0.2,"a6":0.2,"d5":0.3,"d6":0.03},
{"x":1910,"a4":0.3,"a5":0.32,"a6":0.28,"d5":-0.15,"d6":-0.05},
{"x":1930,"a4":0.0,"a5":0.38,"a6":0.3,"d5":0.1,"d6":-0.02},
{"x":1950,"a4":0.55,"a5":0.25,"a6":0.25,"d5":0.2,"d6":-0.08},
{"x":1970,"a4":-0.2,"a5":0.05,"a6":0.15,"d5":-0.1,"d6":-0.1},
{"x":1990,"a4":0.1,"a5":0.0,"a6":0.02,"d5":0.05,"d6":-0.1}
]
},
"concat": [
{"width":290,"height":68,
 "layer":[
  {"data":{"name":"g10"},"mark":{"type":"line","clip":true,"color":"#ff0000","strokeWidth":1.3},"encoding":{"x":{"field":"x","type":"quantitative","title":null,"scale":{"domain":[1,2000],"nice":false,"zero":false},"axis":{"values":[500,1000,1500,2000],"format":"d","labelOverlap":false,"tickCount":10}},"y":{"field":"s","type":"quantitative","title":null,"scale":{"domain":[-2,2],"nice":false,"zero":false},"axis":{"values":[-2,0,2],"format":"d","labelOverlap":false,"tickCount":5}}}},
  {"data":{"name":"tk"},"mark":{"type":"tick","orient":"vertical","clip":true,"size":7,"thickness":0.8,"color":"#777777"},"encoding":{"x":{"field":"t","type":"quantitative","title":null},"y":{"datum":-2,"type":"quantitative","title":null}}},
  {"data":{"name":"tk"},"mark":{"type":"tick","orient":"vertical","clip":true,"size":7,"thickness":0.8,"color":"#777777"},"encoding":{"x":{"field":"t","type":"quantitative","title":null},"y":{"datum":2,"type":"quantitative","title":null}}},
  {"data":{"name":"ye"},"mark":{"type":"tick","orient":"horizontal","clip":true,"size":7,"thickness":0.8,"color":"#777777"},"encoding":{"x":{"field":"e","type":"quantitative","title":null},"y":{"field":"z","type":"quantitative","title":null}}},
  {"data":{"name":"one"},"mark":{"type":"text","align":"left","baseline":"alphabetic","dx":2,"dy":-5,"fontSize":13,"font":"Liberation Sans","color":"#262626"},"encoding":{"x":{"datum":1,"type":"quantitative","title":null},"y":{"datum":2,"type":"quantitative","title":null},"text":{"value":"×10"}}},
  {"data":{"name":"one"},"mark":{"type":"text","align":"left","baseline":"alphabetic","dx":27,"dy":-15,"fontSize":10,"font":"Liberation Sans","color":"#262626"},"encoding":{"x":{"datum":1,"type":"quantitative","title":null},"y":{"datum":2,"type":"quantitative","title":null},"text":{"value":"-4"}}},
  {"data":{"name":"one"},"mark":{"type":"text","align":"center","baseline":"alphabetic","dy":-6,"fontSize":16,"font":"Liberation Sans","fontWeight":"bold","color":"#000000"},"encoding":{"x":{"datum":1000.5,"type":"quantitative","title":null},"y":{"datum":2,"type":"quantitative","title":null},"text":{"value":"Approximations 1 to 6"}}}
 ]},
{"width":290,"height":68,
 "layer":[
  {"data":{"name":"g10"},"mark":{"type":"line","clip":true,"color":"#ff0000","strokeWidth":1.3},"encoding":{"x":{"field":"x","type":"quantitative","title":null,"scale":{"domain":[1,2000],"nice":false,"zero":false},"axis":{"values":[500,1000,1500,2000],"format":"d","labelOverlap":false,"tickCount":10}},"y":{"field":"s","type":"quantitative","title":null,"scale":{"domain":[-2,2],"nice":false,"zero":false},"axis":{"values":[-2,0,2],"format":"d","labelOverlap":false,"tickCount":5}}}},
  {"data":{"name":"tk"},"mark":{"type":"tick","orient":"vertical","clip":true,"size":7,"thickness":0.8,"color":"#777777"},"encoding":{"x":{"field":"t","type":"quantitative","title":null},"y":{"datum":-2,"type":"quantitative","title":null}}},
  {"data":{"name":"tk"},"mark":{"type":"tick","orient":"vertical","clip":true,"size":7,"thickness":0.8,"color":"#777777"},"encoding":{"x":{"field":"t","type":"quantitative","title":null},"y":{"datum":2,"type":"quantitative","title":null}}},
  {"data":{"name":"ye"},"mark":{"type":"tick","orient":"horizontal","clip":true,"size":7,"thickness":0.8,"color":"#777777"},"encoding":{"x":{"field":"e","type":"quantitative","title":null},"y":{"field":"z","type":"quantitative","title":null}}},
  {"data":{"name":"one"},"mark":{"type":"text","align":"left","baseline":"alphabetic","dx":2,"dy":-5,"fontSize":13,"font":"Liberation Sans","color":"#262626"},"encoding":{"x":{"datum":1,"type":"quantitative","title":null},"y":{"datum":2,"type":"quantitative","title":null},"text":{"value":"×10"}}},
  {"data":{"name":"one"},"mark":{"type":"text","align":"left","baseline":"alphabetic","dx":27,"dy":-15,"fontSize":10,"font":"Liberation Sans","color":"#262626"},"encoding":{"x":{"datum":1,"type":"quantitative","title":null},"y":{"datum":2,"type":"quantitative","title":null},"text":{"value":"-4"}}},
  {"data":{"name":"one"},"mark":{"type":"text","align":"center","baseline":"alphabetic","dy":-6,"fontSize":16,"font":"Liberation Sans","fontWeight":"bold","color":"#000000"},"encoding":{"x":{"datum":1000.5,"type":"quantitative","title":null},"y":{"datum":2,"type":"quantitative","title":null},"text":{"value":"Details 1 to 6"}}}
 ]},
{"width":290,"height":68,
 "layer":[
  {"data":{"name":"g10"},"mark":{"type":"line","clip":true,"color":"#0000ff","strokeWidth":1.1},"encoding":{"x":{"field":"x","type":"quantitative","title":null,"scale":{"domain":[1,2000],"nice":false,"zero":false},"axis":{"values":[500,1000,1500,2000],"format":"d","labelOverlap":false,"tickCount":10}},"y":{"field":"a1","type":"quantitative","title":null,"scale":{"domain":[-2,2],"nice":false,"zero":false},"axis":{"values":[-2,0,2],"format":"d","labelOverlap":false,"tickCount":5}}}},
  {"data":{"name":"tk"},"mark":{"type":"tick","orient":"vertical","clip":true,"size":7,"thickness":0.8,"color":"#777777"},"encoding":{"x":{"field":"t","type":"quantitative","title":null},"y":{"datum":-2,"type":"quantitative","title":null}}},
  {"data":{"name":"tk"},"mark":{"type":"tick","orient":"vertical","clip":true,"size":7,"thickness":0.8,"color":"#777777"},"encoding":{"x":{"field":"t","type":"quantitative","title":null},"y":{"datum":2,"type":"quantitative","title":null}}},
  {"data":{"name":"ye"},"mark":{"type":"tick","orient":"horizontal","clip":true,"size":7,"thickness":0.8,"color":"#777777"},"encoding":{"x":{"field":"e","type":"quantitative","title":null},"y":{"field":"z","type":"quantitative","title":null}}},
  {"data":{"name":"one"},"mark":{"type":"text","align":"left","baseline":"alphabetic","dx":2,"dy":-5,"fontSize":13,"font":"Liberation Sans","color":"#262626"},"encoding":{"x":{"datum":1,"type":"quantitative","title":null},"y":{"datum":2,"type":"quantitative","title":null},"text":{"value":"×10"}}},
  {"data":{"name":"one"},"mark":{"type":"text","align":"left","baseline":"alphabetic","dx":27,"dy":-15,"fontSize":10,"font":"Liberation Sans","color":"#262626"},"encoding":{"x":{"datum":1,"type":"quantitative","title":null},"y":{"datum":2,"type":"quantitative","title":null},"text":{"value":"-4"}}},
  {"data":{"name":"one"},"mark":{"type":"text","align":"center","baseline":"middle","dx":43,"dy":2,"fontSize":15,"font":"Liberation Serif","fontWeight":"bold","color":"#000000"},"encoding":{"x":{"datum":2000,"type":"quantitative","title":null},"y":{"datum":0,"type":"quantitative","title":null},"text":{"value":"1"}}}
 ]},
{"width":290,"height":68,
 "layer":[
  {"data":{"name":"g10"},"mark":{"type":"line","clip":true,"color":"#bf00bf","strokeWidth":1.3},"encoding":{"x":{"field":"x","type":"quantitative","title":null,"scale":{"domain":[1,2000],"nice":false,"zero":false},"axis":{"values":[500,1000,1500,2000],"format":"d","labelOverlap":false,"tickCount":10}},"y":{"field":"d1","type":"quantitative","title":null,"scale":{"domain":[-2,2],"nice":false,"zero":false},"axis":{"values":[-2,0,2],"format":"d","labelOverlap":false,"tickCount":5}}}},
  {"data":{"name":"tk"},"mark":{"type":"tick","orient":"vertical","clip":true,"size":7,"thickness":0.8,"color":"#777777"},"encoding":{"x":{"field":"t","type":"quantitative","title":null},"y":{"datum":-2,"type":"quantitative","title":null}}},
  {"data":{"name":"tk"},"mark":{"type":"tick","orient":"vertical","clip":true,"size":7,"thickness":0.8,"color":"#777777"},"encoding":{"x":{"field":"t","type":"quantitative","title":null},"y":{"datum":2,"type":"quantitative","title":null}}},
  {"data":{"name":"ye"},"mark":{"type":"tick","orient":"horizontal","clip":true,"size":7,"thickness":0.8,"color":"#777777"},"encoding":{"x":{"field":"e","type":"quantitative","title":null},"y":{"field":"z","type":"quantitative","title":null}}},
  {"data":{"name":"one"},"mark":{"type":"text","align":"left","baseline":"alphabetic","dx":2,"dy":-5,"fontSize":13,"font":"Liberation Sans","color":"#262626"},"encoding":{"x":{"datum":1,"type":"quantitative","title":null},"y":{"datum":2,"type":"quantitative","title":null},"text":{"value":"×10"}}},
  {"data":{"name":"one"},"mark":{"type":"text","align":"left","baseline":"alphabetic","dx":27,"dy":-15,"fontSize":10,"font":"Liberation Sans","color":"#262626"},"encoding":{"x":{"datum":1,"type":"quantitative","title":null},"y":{"datum":2,"type":"quantitative","title":null},"text":{"value":"-4"}}}
 ]},
{"width":290,"height":68,
 "layer":[
  {"data":{"name":"g10"},"mark":{"type":"line","clip":true,"color":"#0000ff","strokeWidth":0.9},"encoding":{"x":{"field":"x","type":"quantitative","title":null,"scale":{"domain":[1,2000],"nice":false,"zero":false},"axis":{"values":[500,1000,1500,2000],"format":"d","labelOverlap":false,"tickCount":10}},"y":{"field":"a2","type":"quantitative","title":null,"scale":{"domain":[-2,2],"nice":false,"zero":false},"axis":{"values":[-2,0,2],"format":"d","labelOverlap":false,"tickCount":5}}}},
  {"data":{"name":"tk"},"mark":{"type":"tick","orient":"vertical","clip":true,"size":7,"thickness":0.8,"color":"#777777"},"encoding":{"x":{"field":"t","type":"quantitative","title":null},"y":{"datum":-2,"type":"quantitative","title":null}}},
  {"data":{"name":"tk"},"mark":{"type":"tick","orient":"vertical","clip":true,"size":7,"thickness":0.8,"color":"#777777"},"encoding":{"x":{"field":"t","type":"quantitative","title":null},"y":{"datum":2,"type":"quantitative","title":null}}},
  {"data":{"name":"ye"},"mark":{"type":"tick","orient":"horizontal","clip":true,"size":7,"thickness":0.8,"color":"#777777"},"encoding":{"x":{"field":"e","type":"quantitative","title":null},"y":{"field":"z","type":"quantitative","title":null}}},
  {"data":{"name":"one"},"mark":{"type":"text","align":"left","baseline":"alphabetic","dx":2,"dy":-5,"fontSize":13,"font":"Liberation Sans","color":"#262626"},"encoding":{"x":{"datum":1,"type":"quantitative","title":null},"y":{"datum":2,"type":"quantitative","title":null},"text":{"value":"×10"}}},
  {"data":{"name":"one"},"mark":{"type":"text","align":"left","baseline":"alphabetic","dx":27,"dy":-15,"fontSize":10,"font":"Liberation Sans","color":"#262626"},"encoding":{"x":{"datum":1,"type":"quantitative","title":null},"y":{"datum":2,"type":"quantitative","title":null},"text":{"value":"-4"}}},
  {"data":{"name":"one"},"mark":{"type":"text","align":"center","baseline":"middle","dx":43,"dy":2,"fontSize":15,"font":"Liberation Serif","fontWeight":"bold","color":"#000000"},"encoding":{"x":{"datum":2000,"type":"quantitative","title":null},"y":{"datum":0,"type":"quantitative","title":null},"text":{"value":"2"}}}
 ]},
{"width":290,"height":68,
 "layer":[
  {"data":{"name":"g10"},"mark":{"type":"line","clip":true,"color":"#bf00bf","strokeWidth":1.2},"encoding":{"x":{"field":"x","type":"quantitative","title":null,"scale":{"domain":[1,2000],"nice":false,"zero":false},"axis":{"values":[500,1000,1500,2000],"format":"d","labelOverlap":false,"tickCount":10}},"y":{"field":"d2","type":"quantitative","title":null,"scale":{"domain":[-2,2],"nice":false,"zero":false},"axis":{"values":[-2,0,2],"format":"d","labelOverlap":false,"tickCount":5}}}},
  {"data":{"name":"tk"},"mark":{"type":"tick","orient":"vertical","clip":true,"size":7,"thickness":0.8,"color":"#777777"},"encoding":{"x":{"field":"t","type":"quantitative","title":null},"y":{"datum":-2,"type":"quantitative","title":null}}},
  {"data":{"name":"tk"},"mark":{"type":"tick","orient":"vertical","clip":true,"size":7,"thickness":0.8,"color":"#777777"},"encoding":{"x":{"field":"t","type":"quantitative","title":null},"y":{"datum":2,"type":"quantitative","title":null}}},
  {"data":{"name":"ye"},"mark":{"type":"tick","orient":"horizontal","clip":true,"size":7,"thickness":0.8,"color":"#777777"},"encoding":{"x":{"field":"e","type":"quantitative","title":null},"y":{"field":"z","type":"quantitative","title":null}}},
  {"data":{"name":"one"},"mark":{"type":"text","align":"left","baseline":"alphabetic","dx":2,"dy":-5,"fontSize":13,"font":"Liberation Sans","color":"#262626"},"encoding":{"x":{"datum":1,"type":"quantitative","title":null},"y":{"datum":2,"type":"quantitative","title":null},"text":{"value":"×10"}}},
  {"data":{"name":"one"},"mark":{"type":"text","align":"left","baseline":"alphabetic","dx":27,"dy":-15,"fontSize":10,"font":"Liberation Sans","color":"#262626"},"encoding":{"x":{"datum":1,"type":"quantitative","title":null},"y":{"datum":2,"type":"quantitative","title":null},"text":{"value":"-4"}}}
 ]},
{"width":290,"height":68,
 "layer":[
  {"data":{"name":"g10"},"mark":{"type":"line","clip":true,"color":"#0000ff","strokeWidth":0.9},"encoding":{"x":{"field":"x","type":"quantitative","title":null,"scale":{"domain":[1,2000],"nice":false,"zero":false},"axis":{"values":[500,1000,1500,2000],"format":"d","labelOverlap":false,"tickCount":10}},"y":{"field":"a3","type":"quantitative","title":null,"scale":{"domain":[-2,2],"nice":false,"zero":false},"axis":{"values":[-2,0,2],"format":"d","labelOverlap":false,"tickCount":5}}}},
  {"data":{"name":"tk"},"mark":{"type":"tick","orient":"vertical","clip":true,"size":7,"thickness":0.8,"color":"#777777"},"encoding":{"x":{"field":"t","type":"quantitative","title":null},"y":{"datum":-2,"type":"quantitative","title":null}}},
  {"data":{"name":"tk"},"mark":{"type":"tick","orient":"vertical","clip":true,"size":7,"thickness":0.8,"color":"#777777"},"encoding":{"x":{"field":"t","type":"quantitative","title":null},"y":{"datum":2,"type":"quantitative","title":null}}},
  {"data":{"name":"ye"},"mark":{"type":"tick","orient":"horizontal","clip":true,"size":7,"thickness":0.8,"color":"#777777"},"encoding":{"x":{"field":"e","type":"quantitative","title":null},"y":{"field":"z","type":"quantitative","title":null}}},
  {"data":{"name":"one"},"mark":{"type":"text","align":"left","baseline":"alphabetic","dx":2,"dy":-5,"fontSize":13,"font":"Liberation Sans","color":"#262626"},"encoding":{"x":{"datum":1,"type":"quantitative","title":null},"y":{"datum":2,"type":"quantitative","title":null},"text":{"value":"×10"}}},
  {"data":{"name":"one"},"mark":{"type":"text","align":"left","baseline":"alphabetic","dx":27,"dy":-15,"fontSize":10,"font":"Liberation Sans","color":"#262626"},"encoding":{"x":{"datum":1,"type":"quantitative","title":null},"y":{"datum":2,"type":"quantitative","title":null},"text":{"value":"-4"}}},
  {"data":{"name":"one"},"mark":{"type":"text","align":"center","baseline":"middle","dx":43,"dy":2,"fontSize":15,"font":"Liberation Serif","fontWeight":"bold","color":"#000000"},"encoding":{"x":{"datum":2000,"type":"quantitative","title":null},"y":{"datum":0,"type":"quantitative","title":null},"text":{"value":"3"}}}
 ]},
{"width":290,"height":68,
 "layer":[
  {"data":{"name":"g10"},"mark":{"type":"line","clip":true,"color":"#bf00bf","strokeWidth":1.1},"encoding":{"x":{"field":"x","type":"quantitative","title":null,"scale":{"domain":[1,2000],"nice":false,"zero":false},"axis":{"values":[500,1000,1500,2000],"format":"d","labelOverlap":false,"tickCount":10}},"y":{"field":"d3","type":"quantitative","title":null,"scale":{"domain":[-2,2],"nice":false,"zero":false},"axis":{"values":[-2,0,2],"format":"d","labelOverlap":false,"tickCount":5}}}},
  {"data":{"name":"tk"},"mark":{"type":"tick","orient":"vertical","clip":true,"size":7,"thickness":0.8,"color":"#777777"},"encoding":{"x":{"field":"t","type":"quantitative","title":null},"y":{"datum":-2,"type":"quantitative","title":null}}},
  {"data":{"name":"tk"},"mark":{"type":"tick","orient":"vertical","clip":true,"size":7,"thickness":0.8,"color":"#777777"},"encoding":{"x":{"field":"t","type":"quantitative","title":null},"y":{"datum":2,"type":"quantitative","title":null}}},
  {"data":{"name":"ye"},"mark":{"type":"tick","orient":"horizontal","clip":true,"size":7,"thickness":0.8,"color":"#777777"},"encoding":{"x":{"field":"e","type":"quantitative","title":null},"y":{"field":"z","type":"quantitative","title":null}}},
  {"data":{"name":"one"},"mark":{"type":"text","align":"left","baseline":"alphabetic","dx":2,"dy":-5,"fontSize":13,"font":"Liberation Sans","color":"#262626"},"encoding":{"x":{"datum":1,"type":"quantitative","title":null},"y":{"datum":2,"type":"quantitative","title":null},"text":{"value":"×10"}}},
  {"data":{"name":"one"},"mark":{"type":"text","align":"left","baseline":"alphabetic","dx":27,"dy":-15,"fontSize":10,"font":"Liberation Sans","color":"#262626"},"encoding":{"x":{"datum":1,"type":"quantitative","title":null},"y":{"datum":2,"type":"quantitative","title":null},"text":{"value":"-4"}}}
 ]},
{"width":290,"height":68,
 "layer":[
  {"data":{"name":"g20"},"mark":{"type":"line","clip":true,"color":"#0000ff","strokeWidth":0.9},"encoding":{"x":{"field":"x","type":"quantitative","title":null,"scale":{"domain":[1,2000],"nice":false,"zero":false},"axis":{"values":[500,1000,1500,2000],"format":"d","labelOverlap":false,"tickCount":10}},"y":{"field":"a4","type":"quantitative","title":null,"scale":{"domain":[-2,2],"nice":false,"zero":false},"axis":{"values":[-2,0,2],"format":"d","labelOverlap":false,"tickCount":5}}}},
  {"data":{"name":"tk"},"mark":{"type":"tick","orient":"vertical","clip":true,"size":7,"thickness":0.8,"color":"#777777"},"encoding":{"x":{"field":"t","type":"quantitative","title":null},"y":{"datum":-2,"type":"quantitative","title":null}}},
  {"data":{"name":"tk"},"mark":{"type":"tick","orient":"vertical","clip":true,"size":7,"thickness":0.8,"color":"#777777"},"encoding":{"x":{"field":"t","type":"quantitative","title":null},"y":{"datum":2,"type":"quantitative","title":null}}},
  {"data":{"name":"ye"},"mark":{"type":"tick","orient":"horizontal","clip":true,"size":7,"thickness":0.8,"color":"#777777"},"encoding":{"x":{"field":"e","type":"quantitative","title":null},"y":{"field":"z","type":"quantitative","title":null}}},
  {"data":{"name":"one"},"mark":{"type":"text","align":"left","baseline":"alphabetic","dx":2,"dy":-5,"fontSize":13,"font":"Liberation Sans","color":"#262626"},"encoding":{"x":{"datum":1,"type":"quantitative","title":null},"y":{"datum":2,"type":"quantitative","title":null},"text":{"value":"×10"}}},
  {"data":{"name":"one"},"mark":{"type":"text","align":"left","baseline":"alphabetic","dx":27,"dy":-15,"fontSize":10,"font":"Liberation Sans","color":"#262626"},"encoding":{"x":{"datum":1,"type":"quantitative","title":null},"y":{"datum":2,"type":"quantitative","title":null},"text":{"value":"-4"}}},
  {"data":{"name":"one"},"mark":{"type":"text","align":"center","baseline":"middle","dx":43,"dy":2,"fontSize":15,"font":"Liberation Serif","fontWeight":"bold","color":"#000000"},"encoding":{"x":{"datum":2000,"type":"quantitative","title":null},"y":{"datum":0,"type":"quantitative","title":null},"text":{"value":"4"}}}
 ]},
{"width":290,"height":68,
 "layer":[
  {"data":{"name":"g10"},"mark":{"type":"line","clip":true,"color":"#bf00bf","strokeWidth":0.9},"encoding":{"x":{"field":"x","type":"quantitative","title":null,"scale":{"domain":[1,2000],"nice":false,"zero":false},"axis":{"values":[500,1000,1500,2000],"format":"d","labelOverlap":false,"tickCount":10}},"y":{"field":"d4","type":"quantitative","title":null,"scale":{"domain":[-2,2],"nice":false,"zero":false},"axis":{"values":[-2,0,2],"format":"d","labelOverlap":false,"tickCount":5}}}},
  {"data":{"name":"tk"},"mark":{"type":"tick","orient":"vertical","clip":true,"size":7,"thickness":0.8,"color":"#777777"},"encoding":{"x":{"field":"t","type":"quantitative","title":null},"y":{"datum":-2,"type":"quantitative","title":null}}},
  {"data":{"name":"tk"},"mark":{"type":"tick","orient":"vertical","clip":true,"size":7,"thickness":0.8,"color":"#777777"},"encoding":{"x":{"field":"t","type":"quantitative","title":null},"y":{"datum":2,"type":"quantitative","title":null}}},
  {"data":{"name":"ye"},"mark":{"type":"tick","orient":"horizontal","clip":true,"size":7,"thickness":0.8,"color":"#777777"},"encoding":{"x":{"field":"e","type":"quantitative","title":null},"y":{"field":"z","type":"quantitative","title":null}}},
  {"data":{"name":"one"},"mark":{"type":"text","align":"left","baseline":"alphabetic","dx":2,"dy":-5,"fontSize":13,"font":"Liberation Sans","color":"#262626"},"encoding":{"x":{"datum":1,"type":"quantitative","title":null},"y":{"datum":2,"type":"quantitative","title":null},"text":{"value":"×10"}}},
  {"data":{"name":"one"},"mark":{"type":"text","align":"left","baseline":"alphabetic","dx":27,"dy":-15,"fontSize":10,"font":"Liberation Sans","color":"#262626"},"encoding":{"x":{"datum":1,"type":"quantitative","title":null},"y":{"datum":2,"type":"quantitative","title":null},"text":{"value":"-4"}}}
 ]},
{"width":290,"height":68,
 "layer":[
  {"data":{"name":"g20"},"mark":{"type":"line","clip":true,"color":"#0000ff","strokeWidth":0.9},"encoding":{"x":{"field":"x","type":"quantitative","title":null,"scale":{"domain":[1,2000],"nice":false,"zero":false},"axis":{"values":[500,1000,1500,2000],"format":"d","labelOverlap":false,"tickCount":10}},"y":{"field":"a5","type":"quantitative","title":null,"scale":{"domain":[-2,2],"nice":false,"zero":false},"axis":{"values":[-2,0,2],"format":"d","labelOverlap":false,"tickCount":5}}}},
  {"data":{"name":"tk"},"mark":{"type":"tick","orient":"vertical","clip":true,"size":7,"thickness":0.8,"color":"#777777"},"encoding":{"x":{"field":"t","type":"quantitative","title":null},"y":{"datum":-2,"type":"quantitative","title":null}}},
  {"data":{"name":"tk"},"mark":{"type":"tick","orient":"vertical","clip":true,"size":7,"thickness":0.8,"color":"#777777"},"encoding":{"x":{"field":"t","type":"quantitative","title":null},"y":{"datum":2,"type":"quantitative","title":null}}},
  {"data":{"name":"ye"},"mark":{"type":"tick","orient":"horizontal","clip":true,"size":7,"thickness":0.8,"color":"#777777"},"encoding":{"x":{"field":"e","type":"quantitative","title":null},"y":{"field":"z","type":"quantitative","title":null}}},
  {"data":{"name":"one"},"mark":{"type":"text","align":"left","baseline":"alphabetic","dx":2,"dy":-5,"fontSize":13,"font":"Liberation Sans","color":"#262626"},"encoding":{"x":{"datum":1,"type":"quantitative","title":null},"y":{"datum":2,"type":"quantitative","title":null},"text":{"value":"×10"}}},
  {"data":{"name":"one"},"mark":{"type":"text","align":"left","baseline":"alphabetic","dx":27,"dy":-15,"fontSize":10,"font":"Liberation Sans","color":"#262626"},"encoding":{"x":{"datum":1,"type":"quantitative","title":null},"y":{"datum":2,"type":"quantitative","title":null},"text":{"value":"-4"}}},
  {"data":{"name":"one"},"mark":{"type":"text","align":"center","baseline":"middle","dx":43,"dy":2,"fontSize":15,"font":"Liberation Serif","fontWeight":"bold","color":"#000000"},"encoding":{"x":{"datum":2000,"type":"quantitative","title":null},"y":{"datum":0,"type":"quantitative","title":null},"text":{"value":"5"}}}
 ]},
{"width":290,"height":68,
 "layer":[
  {"data":{"name":"g20"},"mark":{"type":"line","clip":true,"color":"#bf00bf","strokeWidth":0.9},"encoding":{"x":{"field":"x","type":"quantitative","title":null,"scale":{"domain":[1,2000],"nice":false,"zero":false},"axis":{"values":[500,1000,1500,2000],"format":"d","labelOverlap":false,"tickCount":10}},"y":{"field":"d5","type":"quantitative","title":null,"scale":{"domain":[-2,2],"nice":false,"zero":false},"axis":{"values":[-2,0,2],"format":"d","labelOverlap":false,"tickCount":5}}}},
  {"data":{"name":"tk"},"mark":{"type":"tick","orient":"vertical","clip":true,"size":7,"thickness":0.8,"color":"#777777"},"encoding":{"x":{"field":"t","type":"quantitative","title":null},"y":{"datum":-2,"type":"quantitative","title":null}}},
  {"data":{"name":"tk"},"mark":{"type":"tick","orient":"vertical","clip":true,"size":7,"thickness":0.8,"color":"#777777"},"encoding":{"x":{"field":"t","type":"quantitative","title":null},"y":{"datum":2,"type":"quantitative","title":null}}},
  {"data":{"name":"ye"},"mark":{"type":"tick","orient":"horizontal","clip":true,"size":7,"thickness":0.8,"color":"#777777"},"encoding":{"x":{"field":"e","type":"quantitative","title":null},"y":{"field":"z","type":"quantitative","title":null}}},
  {"data":{"name":"one"},"mark":{"type":"text","align":"left","baseline":"alphabetic","dx":2,"dy":-5,"fontSize":13,"font":"Liberation Sans","color":"#262626"},"encoding":{"x":{"datum":1,"type":"quantitative","title":null},"y":{"datum":2,"type":"quantitative","title":null},"text":{"value":"×10"}}},
  {"data":{"name":"one"},"mark":{"type":"text","align":"left","baseline":"alphabetic","dx":27,"dy":-15,"fontSize":10,"font":"Liberation Sans","color":"#262626"},"encoding":{"x":{"datum":1,"type":"quantitative","title":null},"y":{"datum":2,"type":"quantitative","title":null},"text":{"value":"-4"}}}
 ]},
{"width":290,"height":68,
 "layer":[
  {"data":{"name":"g20"},"mark":{"type":"line","clip":true,"color":"#0000ff","strokeWidth":0.9},"encoding":{"x":{"field":"x","type":"quantitative","title":null,"scale":{"domain":[1,2000],"nice":false,"zero":false},"axis":{"values":[500,1000,1500,2000],"format":"d","labelOverlap":false,"tickCount":10}},"y":{"field":"a6","type":"quantitative","title":null,"scale":{"domain":[-2,2],"nice":false,"zero":false},"axis":{"values":[-2,0,2],"format":"d","labelOverlap":false,"tickCount":5}}}},
  {"data":{"name":"tk"},"mark":{"type":"tick","orient":"vertical","clip":true,"size":7,"thickness":0.8,"color":"#777777"},"encoding":{"x":{"field":"t","type":"quantitative","title":null},"y":{"datum":-2,"type":"quantitative","title":null}}},
  {"data":{"name":"tk"},"mark":{"type":"tick","orient":"vertical","clip":true,"size":7,"thickness":0.8,"color":"#777777"},"encoding":{"x":{"field":"t","type":"quantitative","title":null},"y":{"datum":2,"type":"quantitative","title":null}}},
  {"data":{"name":"ye"},"mark":{"type":"tick","orient":"horizontal","clip":true,"size":7,"thickness":0.8,"color":"#777777"},"encoding":{"x":{"field":"e","type":"quantitative","title":null},"y":{"field":"z","type":"quantitative","title":null}}},
  {"data":{"name":"one"},"mark":{"type":"text","align":"left","baseline":"alphabetic","dx":2,"dy":-5,"fontSize":13,"font":"Liberation Sans","color":"#262626"},"encoding":{"x":{"datum":1,"type":"quantitative","title":null},"y":{"datum":2,"type":"quantitative","title":null},"text":{"value":"×10"}}},
  {"data":{"name":"one"},"mark":{"type":"text","align":"left","baseline":"alphabetic","dx":27,"dy":-15,"fontSize":10,"font":"Liberation Sans","color":"#262626"},"encoding":{"x":{"datum":1,"type":"quantitative","title":null},"y":{"datum":2,"type":"quantitative","title":null},"text":{"value":"-4"}}},
  {"data":{"name":"one"},"mark":{"type":"text","align":"center","baseline":"middle","dx":43,"dy":2,"fontSize":15,"font":"Liberation Serif","fontWeight":"bold","color":"#000000"},"encoding":{"x":{"datum":2000,"type":"quantitative","title":null},"y":{"datum":0,"type":"quantitative","title":null},"text":{"value":"6"}}}
 ]},
{"width":290,"height":68,
 "layer":[
  {"data":{"name":"g20"},"mark":{"type":"line","clip":true,"color":"#bf00bf","strokeWidth":0.9},"encoding":{"x":{"field":"x","type":"quantitative","title":null,"scale":{"domain":[1,2000],"nice":false,"zero":false},"axis":{"values":[500,1000,1500,2000],"format":"d","labelOverlap":false,"tickCount":10}},"y":{"field":"d6","type":"quantitative","title":null,"scale":{"domain":[-2,2],"nice":false,"zero":false},"axis":{"values":[-2,0,2],"format":"d","labelOverlap":false,"tickCount":5}}}},
  {"data":{"name":"tk"},"mark":{"type":"tick","orient":"vertical","clip":true,"size":7,"thickness":0.8,"color":"#777777"},"encoding":{"x":{"field":"t","type":"quantitative","title":null},"y":{"datum":-2,"type":"quantitative","title":null}}},
  {"data":{"name":"tk"},"mark":{"type":"tick","orient":"vertical","clip":true,"size":7,"thickness":0.8,"color":"#777777"},"encoding":{"x":{"field":"t","type":"quantitative","title":null},"y":{"datum":2,"type":"quantitative","title":null}}},
  {"data":{"name":"ye"},"mark":{"type":"tick","orient":"horizontal","clip":true,"size":7,"thickness":0.8,"color":"#777777"},"encoding":{"x":{"field":"e","type":"quantitative","title":null},"y":{"field":"z","type":"quantitative","title":null}}},
  {"data":{"name":"one"},"mark":{"type":"text","align":"left","baseline":"alphabetic","dx":2,"dy":-5,"fontSize":13,"font":"Liberation Sans","color":"#262626"},"encoding":{"x":{"datum":1,"type":"quantitative","title":null},"y":{"datum":2,"type":"quantitative","title":null},"text":{"value":"×10"}}},
  {"data":{"name":"one"},"mark":{"type":"text","align":"left","baseline":"alphabetic","dx":27,"dy":-15,"fontSize":10,"font":"Liberation Sans","color":"#262626"},"encoding":{"x":{"datum":1,"type":"quantitative","title":null},"y":{"datum":2,"type":"quantitative","title":null},"text":{"value":"-4"}}}
 ]}
]
}
